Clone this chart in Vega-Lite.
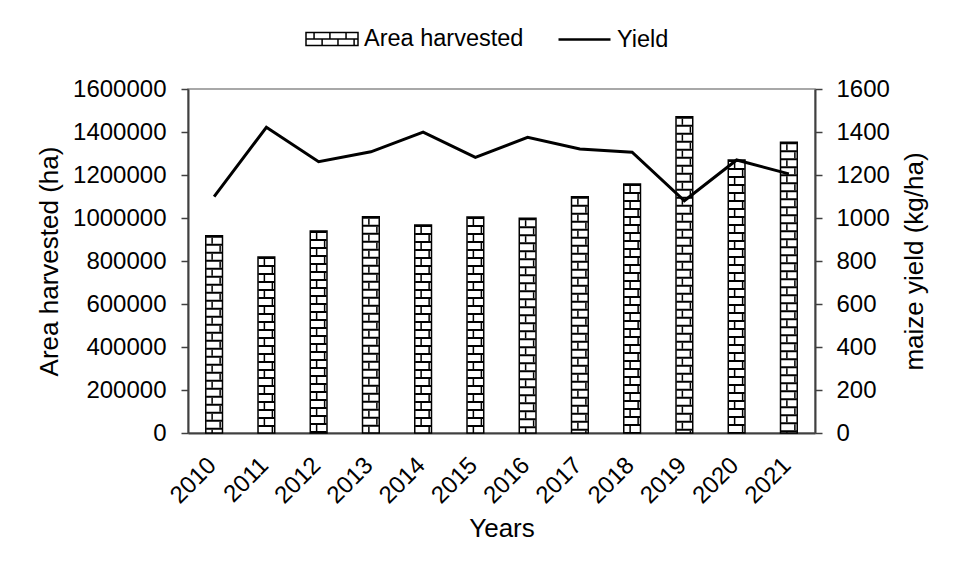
{
  "$schema": "https://vega.github.io/schema/vega-lite/v6.json",
  "width": 627,
  "height": 344,
  "autosize": {"type": "none"},
  "padding": {"left": 188, "top": 89, "right": 147, "bottom": 145},
  "background": "white",
  "config": {
    "font": "Liberation Sans",
    "view": {"stroke": "#8c8c8c", "strokeWidth": 1.5},
    "axis": {
      "labelFont": "Liberation Sans",
      "titleFont": "Liberation Sans",
      "labelColor": "black",
      "titleColor": "black",
      "titleFontWeight": "normal",
      "domainColor": "#404040",
      "domainWidth": 2,
      "tickColor": "#404040",
      "tickWidth": 1.5,
      "grid": false,
      "labelFontSize": 24,
      "titleFontSize": 26
    },
    "legend": {
      "labelFont": "Liberation Sans",
      "labelFontSize": 23.5,
      "labelColor": "black",
      "padding": 0,
      "labelOffset": 5
    }
  },
  "data": {
    "values": [
      {"year": "2010", "area": 918000, "yield": 1099},
      {"year": "2011", "area": 819000, "yield": 1422},
      {"year": "2012", "area": 940000, "yield": 1262},
      {"year": "2013", "area": 1006000, "yield": 1308},
      {"year": "2014", "area": 967000, "yield": 1399},
      {"year": "2015", "area": 1005000, "yield": 1282},
      {"year": "2016", "area": 999000, "yield": 1375},
      {"year": "2017", "area": 1099000, "yield": 1321},
      {"year": "2018", "area": 1158000, "yield": 1306},
      {"year": "2019", "area": 1471000, "yield": 1080},
      {"year": "2020", "area": 1270000, "yield": 1270},
      {"year": "2021", "area": 1352000, "yield": 1205}
    ]
  },
  "layer": [
    {
      "layer": [
        {
          "mark": {"type": "bar", "stroke": "black", "strokeWidth": 1.5},
          "encoding": {
            "x": {
              "field": "year",
              "type": "ordinal",
              "scale": {"paddingInner": 0.68, "paddingOuter": 0.34},
              "axis": {"title": "Years", "labelAngle": -45, "labelAlign": "right", "labelBaseline": "top", "labelOffset": -10, "ticks": false, "labelPadding": 20, "titlePadding": 8}
            },
            "y": {
              "field": "area",
              "type": "quantitative",
              "scale": {"domain": [0, 1600000], "nice": false},
              "axis": {
                "title": "Area harvested (ha)",
                "values": [0, 200000, 400000, 600000, 800000, 1000000, 1200000, 1400000, 1600000],
                "format": "d",
                "tickSize": 7,
                "labelPadding": 15,
                "titlePadding": 10
              }
            },
            "fill": {
              "datum": "Area harvested",
              "scale": {"domain": ["Area harvested"], "range": ["white"]},
              "legend": {
                "title": null,
                "orient": "none",
                "legendX": 117,
                "legendY": -77,
                "symbolType": "M-1,-0.25H1V0.25H-1Z M-1,0H1 M-0.69,-0.25V0 M-0.08,-0.25V0 M0.54,-0.25V0 M-0.38,0V0.25 M0.23,0V0.25 M0.85,0V0.25",
                "symbolSize": 2704,
                "symbolStrokeColor": "black",
                "symbolStrokeWidth": 1.5,
                "symbolFillColor": "white",
                "encode": {"symbols": {"update": {"stroke": {"value": "black"}, "strokeWidth": {"value": 1.5}, "opacity": {"value": 1}}}}
              }
            }
          }
        },
        {
          "mark": {"type": "rule", "color": "black", "strokeWidth": 16, "strokeDash": [2, 6], "strokeCap": "butt"},
          "encoding": {
            "x": {"field": "year", "type": "ordinal"},
            "y": {"field": "area", "type": "quantitative"},
            "y2": {"datum": 0}
          }
        },
        {
          "mark": {"type": "rule", "color": "black", "strokeWidth": 1.5, "strokeDash": [6, 10], "strokeDashOffset": 14, "strokeCap": "butt", "xOffset": -2},
          "encoding": {
            "x": {"field": "year", "type": "ordinal"},
            "y": {"field": "area", "type": "quantitative"},
            "y2": {"datum": 0}
          }
        },
        {
          "mark": {"type": "rule", "color": "black", "strokeWidth": 1.5, "strokeDash": [6, 10], "strokeDashOffset": 6, "strokeCap": "butt", "xOffset": 6},
          "encoding": {
            "x": {"field": "year", "type": "ordinal"},
            "y": {"field": "area", "type": "quantitative"},
            "y2": {"datum": 0}
          }
        }
      ]
    },
    {
      "mark": {"type": "line", "strokeWidth": 3},
      "encoding": {
        "x": {"field": "year", "type": "ordinal"},
        "y": {
          "field": "yield",
          "type": "quantitative",
          "scale": {"domain": [0, 1600], "nice": false},
          "axis": {
            "orient": "right",
            "title": "maize yield (kg/ha)",
            "values": [0, 200, 400, 600, 800, 1000, 1200, 1400, 1600],
            "format": "d",
            "tickSize": 7,
            "labelPadding": 14,
            "titleAngle": 270,
            "titleBaseline": "top",
            "titlePadding": 12
          }
        },
        "stroke": {
          "datum": "Yield",
          "scale": {"domain": ["Yield"], "range": ["black"]},
          "legend": {
            "title": null,
            "orient": "none",
            "legendX": 369,
            "legendY": -77,
            "symbolType": "stroke",
            "symbolSize": 2704,
            "symbolStrokeWidth": 2.5
          }
        }
      }
    }
  ],
  "resolve": {"scale": {"y": "independent"}}
}
